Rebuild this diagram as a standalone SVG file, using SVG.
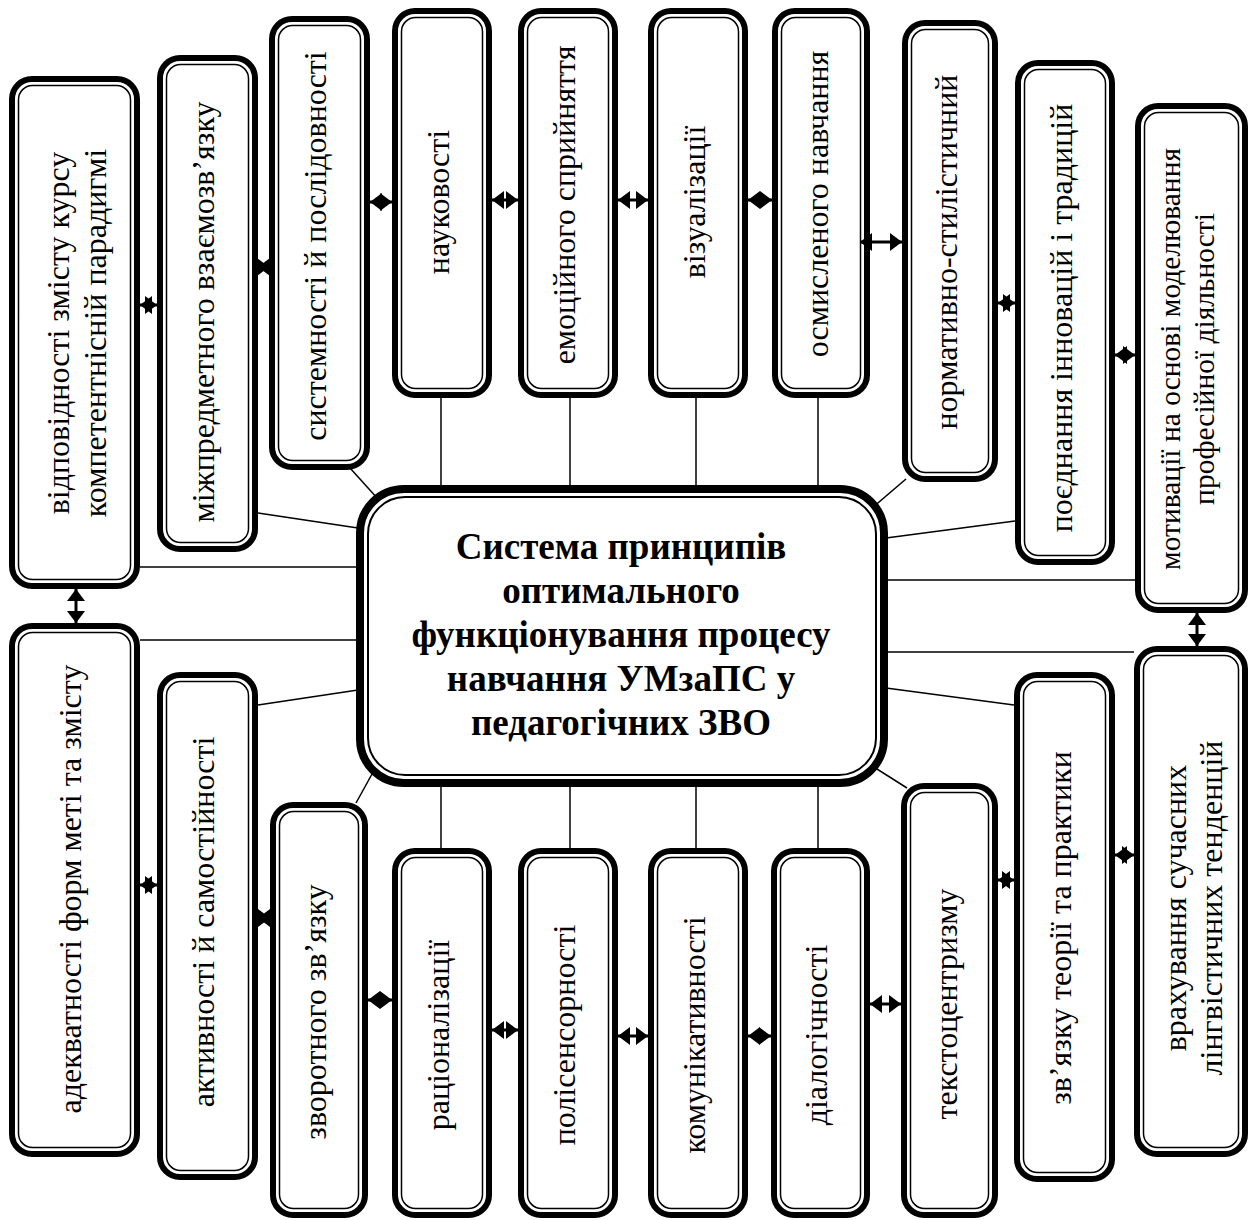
<svg xmlns="http://www.w3.org/2000/svg" width="1249" height="1220" viewBox="0 0 1249 1220">
<style>
.o{fill:#fff;stroke:#000;stroke-width:6}
.i{fill:none;stroke:#000;stroke-width:1.5}
.co{fill:#fff;stroke:#000;stroke-width:8}
.ci{fill:none;stroke:#000;stroke-width:2}
.t{font-family:"Liberation Serif","Times New Roman",serif;font-size:32px;fill:#000;text-anchor:middle}
.s{font-size:29.5px}
.c{font-family:"Liberation Serif","Times New Roman",serif;font-size:37px;font-weight:bold;fill:#000;text-anchor:middle}
.ln{stroke:#000;stroke-width:1.5;fill:none}
.ar{stroke:#000;stroke-width:3;marker-start:url(#ah);marker-end:url(#ah)}
</style>
<defs>
<marker id="ah" viewBox="0 0 12 18" refX="12" refY="9" markerWidth="12" markerHeight="18" markerUnits="userSpaceOnUse" orient="auto-start-reverse"><path d="M0,0 L12,9 L0,18 z" fill="#000"/></marker>
</defs>
<rect width="1249" height="1220" fill="#fff"/>
<g id="lines">
<line class="ln" x1="441" y1="398" x2="441" y2="487"/>
<line class="ln" x1="570" y1="398" x2="570" y2="487"/>
<line class="ln" x1="696" y1="398" x2="696" y2="487"/>
<line class="ln" x1="818" y1="398" x2="818" y2="487"/>
<line class="ln" x1="441" y1="785" x2="441" y2="850"/>
<line class="ln" x1="570" y1="785" x2="570" y2="850"/>
<line class="ln" x1="696" y1="785" x2="696" y2="850"/>
<line class="ln" x1="818" y1="785" x2="818" y2="850"/>
<line class="ln" x1="350" y1="468" x2="378" y2="499"/>
<line class="ln" x1="906" y1="479" x2="865" y2="514"/>
<line class="ln" x1="377" y1="765" x2="356" y2="803"/>
<line class="ln" x1="866" y1="762" x2="907" y2="788"/>
<line class="ln" x1="258" y1="513" x2="358" y2="528"/>
<line class="ln" x1="140" y1="567" x2="358" y2="567"/>
<line class="ln" x1="140" y1="640" x2="358" y2="640"/>
<line class="ln" x1="258" y1="705" x2="358" y2="690"/>
<line class="ln" x1="886" y1="538" x2="1015" y2="521"/>
<line class="ln" x1="886" y1="580" x2="1135" y2="580"/>
<line class="ln" x1="886" y1="652" x2="1134" y2="652"/>
<line class="ln" x1="886" y1="688" x2="1014" y2="705"/>
</g>
<g id="center">
<rect class="co" x="360" y="489" width="524" height="294" rx="44"/>
<rect class="ci" x="368" y="497" width="508" height="278" rx="37"/>
<text class="c" x="621" y="559">Система принципів</text>
<text class="c" x="621" y="603">оптимального</text>
<text class="c" x="621" y="647">функціонування процесу</text>
<text class="c" x="621" y="691">навчання УМзаПС у</text>
<text class="c" x="621" y="735">педагогічних ЗВО</text>
</g>
<g id="n1"><rect class="o" x="12" y="79" width="125" height="507" rx="20"/><rect class="i" x="18.5" y="85.5" width="112" height="494" rx="14"/>
<text class="t" transform="translate(69,333) rotate(-90)">відповідності змісту курсу</text>
<text class="t" transform="translate(106,333) rotate(-90)">компетентнісній парадигмі</text></g>
<g id="n2"><rect class="o" x="160" y="58" width="95" height="491" rx="20"/><rect class="i" x="166.5" y="64.5" width="82" height="478" rx="14"/>
<text class="t" transform="translate(214,312) rotate(-90)">міжпредметного взаємозв’язку</text></g>
<g id="n3"><rect class="o" x="272" y="19" width="95" height="448" rx="20"/><rect class="i" x="278.5" y="25.5" width="82" height="435" rx="14"/>
<text class="t" transform="translate(326,246) rotate(-90)">системності й послідовності</text></g>
<g id="n4"><rect class="o" x="395" y="11" width="94" height="384" rx="20"/><rect class="i" x="401.5" y="17.5" width="81" height="371" rx="14"/>
<text class="t" transform="translate(449,202) rotate(-90)">науковості</text></g>
<g id="n5"><rect class="o" x="521" y="11" width="94" height="384" rx="20"/><rect class="i" x="527.5" y="17.5" width="81" height="371" rx="14"/>
<text class="t" transform="translate(575,205) rotate(-90)">емоційного сприйняття</text></g>
<g id="n6"><rect class="o" x="651" y="11" width="94" height="384" rx="20"/><rect class="i" x="657.5" y="17.5" width="81" height="371" rx="14"/>
<text class="t" transform="translate(705,202) rotate(-90)">візуалізації</text></g>
<g id="n7"><rect class="o" x="775" y="11" width="92" height="384" rx="20"/><rect class="i" x="781.5" y="17.5" width="79" height="371" rx="14"/>
<text class="t" transform="translate(828,204) rotate(-90)">осмисленого навчання</text></g>
<g id="n8"><rect class="o" x="905" y="23" width="90" height="456" rx="20"/><rect class="i" x="911.5" y="29.5" width="77" height="443" rx="14"/>
<text class="t" transform="translate(957,252) rotate(-90)">нормативно-стилістичний</text></g>
<g id="n9"><rect class="o" x="1018" y="63" width="94" height="499" rx="20"/><rect class="i" x="1024.5" y="69.5" width="81" height="486" rx="14"/>
<text class="t" transform="translate(1072,318) rotate(-90)">поєднання інновацій і традицій</text></g>
<g id="n10"><rect class="o" x="1138" y="106" width="107" height="504" rx="20"/><rect class="i" x="1144.5" y="112.5" width="94" height="491" rx="14"/>
<text class="t s" transform="translate(1180,359) rotate(-90)">мотивації на основі моделювання</text>
<text class="t s" transform="translate(1214,359) rotate(-90)">професійної діяльності</text></g>
<g id="n11"><rect class="o" x="12" y="626" width="125" height="528" rx="20"/><rect class="i" x="18.5" y="632.5" width="112" height="515" rx="14"/>
<text class="t" transform="translate(81,889) rotate(-90)">адекватності форм меті та змісту</text></g>
<g id="n12"><rect class="o" x="160" y="675" width="95" height="502" rx="20"/><rect class="i" x="166.5" y="681.5" width="82" height="489" rx="14"/>
<text class="t" transform="translate(214,922) rotate(-90)">активності й самостійності</text></g>
<g id="n13"><rect class="o" x="273" y="805" width="92" height="410" rx="20"/><rect class="i" x="279.5" y="811.5" width="79" height="397" rx="14"/>
<text class="t" transform="translate(326,1012) rotate(-90)">зворотного зв’язку</text></g>
<g id="n14"><rect class="o" x="395" y="851" width="94" height="364" rx="20"/><rect class="i" x="401.5" y="857.5" width="81" height="351" rx="14"/>
<text class="t" transform="translate(449,1035) rotate(-90)">раціоналізації</text></g>
<g id="n15"><rect class="o" x="521" y="851" width="94" height="364" rx="20"/><rect class="i" x="527.5" y="857.5" width="81" height="351" rx="14"/>
<text class="t" transform="translate(575,1035) rotate(-90)">полісенсорності</text></g>
<g id="n16"><rect class="o" x="651" y="851" width="94" height="364" rx="20"/><rect class="i" x="657.5" y="857.5" width="81" height="351" rx="14"/>
<text class="t" transform="translate(705,1035) rotate(-90)">комунікативності</text></g>
<g id="n17"><rect class="o" x="774" y="851" width="93" height="364" rx="20"/><rect class="i" x="780.5" y="857.5" width="80" height="351" rx="14"/>
<text class="t" transform="translate(827,1035) rotate(-90)">діалогічності</text></g>
<g id="n18"><rect class="o" x="904" y="786" width="91" height="429" rx="20"/><rect class="i" x="910.5" y="792.5" width="78" height="416" rx="14"/>
<text class="t" transform="translate(957,1004) rotate(-90)">текстоцентризму</text></g>
<g id="n19"><rect class="o" x="1017" y="675" width="95" height="504" rx="20"/><rect class="i" x="1023.5" y="681.5" width="82" height="491" rx="14"/>
<text class="t" transform="translate(1071,928) rotate(-90)">зв’язку теорії та практики</text></g>
<g id="n20"><rect class="o" x="1137" y="649" width="108" height="505" rx="20"/><rect class="i" x="1143.5" y="655.5" width="95" height="492" rx="14"/>
<text class="t" transform="translate(1186,908) rotate(-90)">врахування сучасних</text>
<text class="t" transform="translate(1222,908) rotate(-90)">лінгвістичних тенденцій</text></g>
<g id="arrows">
<line class="ar" x1="140" y1="305" x2="157" y2="305"/>
<line class="ar" x1="258" y1="267" x2="269" y2="267"/>
<line class="ar" x1="370" y1="202" x2="392" y2="202"/>
<line class="ar" x1="492" y1="200" x2="518" y2="200"/>
<line class="ar" x1="618" y1="200" x2="648" y2="200"/>
<line class="ar" x1="748" y1="200" x2="772" y2="200"/>
<line class="ar" x1="860" y1="242" x2="902" y2="242"/>
<line class="ar" x1="998" y1="303" x2="1015" y2="303"/>
<line class="ar" x1="1115" y1="355" x2="1135" y2="355"/>
<line class="ar" x1="76" y1="589" x2="76" y2="623"/>
<line class="ar" x1="1197" y1="613" x2="1197" y2="646"/>
<line class="ar" x1="140" y1="885" x2="157" y2="885"/>
<line class="ar" x1="258" y1="918" x2="270" y2="918"/>
<line class="ar" x1="368" y1="1000" x2="392" y2="1000"/>
<line class="ar" x1="492" y1="1030" x2="518" y2="1030"/>
<line class="ar" x1="618" y1="1036" x2="648" y2="1036"/>
<line class="ar" x1="748" y1="1036" x2="771" y2="1036"/>
<line class="ar" x1="870" y1="1004" x2="901" y2="1004"/>
<line class="ar" x1="998" y1="880" x2="1014" y2="880"/>
<line class="ar" x1="1115" y1="855" x2="1134" y2="855"/>
</g>
</svg>
